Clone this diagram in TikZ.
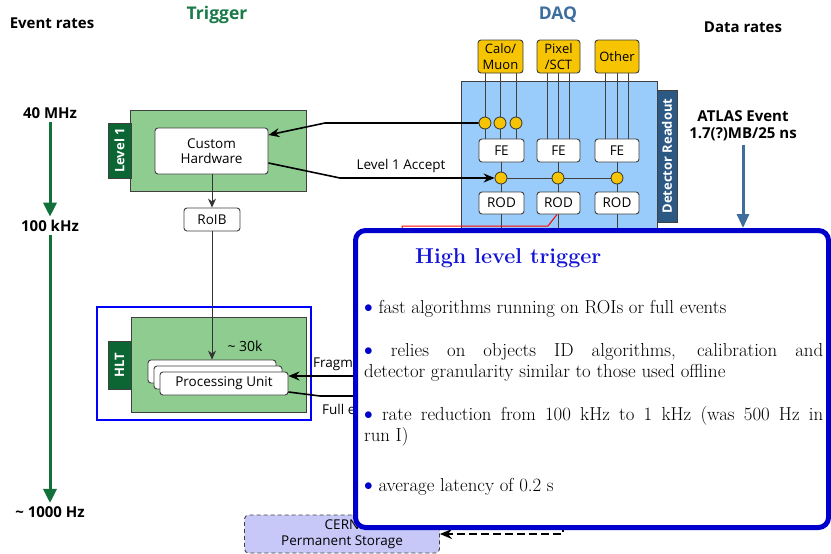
\documentclass[tikz,border=0pt]{standalone}
\usepackage{fontspec}
\setsansfont{Open Sans}
\usetikzlibrary{arrows.meta,calc}

\definecolor{boxgreen}{RGB}{143,204,143}
\definecolor{tabgreen}{RGB}{12,102,52}
\definecolor{headgreen}{RGB}{26,122,72}
\definecolor{rategreen}{RGB}{18,112,58}
\definecolor{daqfill}{RGB}{153,204,250}
\definecolor{tabblue}{RGB}{44,88,132}
\definecolor{steel}{RGB}{62,110,158}
\definecolor{detyellow}{RGB}{246,196,0}
\definecolor{panelblue}{RGB}{0,0,205}
\definecolor{titleblue}{RGB}{20,20,215}
\definecolor{storefill}{RGB}{200,200,248}

\newcommand\hltbullet{\textcolor{panelblue}{\fontsize{19}{19}\selectfont\raisebox{0.2pt}{$\bullet$}}\ }

\begin{document}
\begin{tikzpicture}[x=1pt,y=-1pt,
  every node/.style={font=\sffamily},
  lbl/.style={font=\fontsize{13.5}{16}\sffamily},
  head/.style={font=\fontsize{15}{17}\sffamily\bfseries},
  section/.style={font=\fontsize{17.5}{20}\sffamily\bfseries},
  stage/.style={draw=black!75, line width=0.9pt, fill=boxgreen, inner sep=0pt},
  tab/.style={draw=black!75, line width=0.8pt, fill=tabgreen, text=white, inner sep=0pt,
    rotate=90, font=\fontsize{13}{14}\sffamily\bfseries},
  wbox/.style={draw=black!75, line width=0.9pt, fill=white, rounded corners=3pt,
    inner sep=0pt, align=center, font=\fontsize{13.5}{15.5}\sffamily},
  ybox/.style={wbox, fill=detyellow, font=\fontsize{13}{16}\sffamily},
  dot/.style={circle, draw=black!80, line width=0.8pt, fill=detyellow,
    minimum size=12pt, inner sep=0pt},
  wire/.style={draw=black!75, line width=0.8pt},
  link/.style={draw=black, line width=1.6pt, -{Stealth[length=11pt,width=9pt]}},
  thinlink/.style={draw=black!80, line width=0.8pt, -{Stealth[length=9pt,width=8pt]}},
  rate/.style={draw=rategreen, line width=3pt, -{Triangle[length=14pt,width=13pt]}},
  hlttext/.style={anchor=base west, inner sep=0pt, font=\fontsize{18.8}{21}\rmfamily},
]
\fill[white] (0,0) rectangle (831,554);
\path[use as bounding box] (0,0) rectangle (831,554);

% column headings
\node[head] (evr) at (52,23) {Event rates};
\node[section, text=headgreen] (trig) at (217,15) {Trigger};
\node[section, text=steel] (daq) at (558,15) {DAQ};
\node[head] (drates) at (743,27) {Data rates};

% event rate scale
\node[head] (r40) at (50,113) {40 MHz};
\node[head] (r100) at (50,226) {100 kHz};
\node[head] (r1k) at (50,512) {\textasciitilde{} 1000 Hz};
\draw[rate] (r40.south) -- (r100.north);
\draw[rate] (r100.south) -- (r1k.north);

% Level 1 trigger
\node[stage, minimum width=176pt, minimum height=81pt] (l1) at (218,150.5) {};
\node[tab, minimum width=55pt, minimum height=23pt] (l1tab) at (119.5,150.5) {Level 1};
\node[wbox, minimum width=113pt, minimum height=46pt] (ch) at (211.5,151) {Custom\\Hardware};
\node[wbox, minimum width=56pt, minimum height=23pt] (roib) at (212,219.5) {RoIB};
\draw[thinlink] (ch.south -| roib.north) -- (roib.north);

% High level trigger farm
\node[draw=blue, line width=1.3pt, minimum width=214pt, minimum height=113pt, inner sep=0pt] (hltframe) at (204,363.5) {};
\node[stage, minimum width=175pt, minimum height=95pt] (hltbox) at (218.5,364.5) {};
\node[tab, minimum width=48pt, minimum height=23pt] (hlttab) at (119.5,365) {HLT};
\node[wbox, minimum width=128pt, minimum height=23pt] (pu1) at (212,371.5) {};
\node[wbox, minimum width=128pt, minimum height=23pt] (pu2) at (218,377.5) {};
\node[wbox, minimum width=128pt, minimum height=23pt] (pu3) at (224,383.5) {Processing Unit};
\draw[thinlink] (roib.south) -- (pu1.north);
\node[font=\fontsize{14}{16}\sffamily] (n30k) at (245,346) {\textasciitilde{} 30k};

% DAQ readout
\node[draw=black!75, line width=0.9pt, fill=daqfill, minimum width=196pt, minimum height=179pt, inner sep=0pt] (daqbox) at (559,170.5) {};
\node[tab, fill=tabblue, minimum width=132pt, minimum height=20pt] (drtab) at (667,156) {Detector Readout};

\node[ybox, minimum width=45pt, minimum height=33pt] (calo) at (500.5,56.5) {Calo/\\Muon};
\node[ybox, minimum width=43pt, minimum height=33pt] (pix) at (558.5,56.5) {Pixel\\/SCT};
\node[ybox, minimum width=44pt, minimum height=33pt] (oth) at (617,56.5) {Other};

\node[wbox, minimum width=45pt, minimum height=23pt] (fe1) at (501.5,150.5) {FE};
\node[wbox, minimum width=43pt, minimum height=23pt] (fe2) at (558.5,150.5) {FE};
\node[wbox, minimum width=44pt, minimum height=23pt] (fe3) at (617,150.5) {FE};
\node[wbox, minimum width=45pt, minimum height=22pt] (rod1) at (501.5,203) {ROD};
\node[wbox, minimum width=43pt, minimum height=22pt] (rod2) at (558.5,203) {ROD};
\node[wbox, minimum width=44pt, minimum height=22pt] (rod3) at (617,203) {ROD};

% detector channels into the front ends
\foreach \x in {485,500,516}
  \draw[wire] (calo.south -| \x,0) -- (fe1.north -| \x,0);
\foreach \x in {547,558,569}
  \draw[wire] (pix.south -| \x,0) -- (fe2.north -| \x,0);
\foreach \x in {605,617,628}
  \draw[wire] (oth.south -| \x,0) -- (fe3.north -| \x,0);

% front ends to readout drivers
\draw[wire] (fe1.south) -- (rod1.north);
\draw[wire] (fe2.south) -- (rod2.north);
\draw[wire] (fe3.south) -- (rod3.north);
\draw[wire] (rod1.south) -- ++(0,60);
\draw[wire] (rod2.south) -- ++(0,60);
\draw[wire] (rod3.south) -- ++(0,60);
\draw[red, line width=1pt] ($(rod2.south)+(-1.5,0)$) -- (548,226) -- (402,226) -- (402,300);

\node[dot] (ca) at (485,123) {};
\node[dot] (cb) at (500,123) {};
\node[dot] (cc) at (516,123) {};
\draw[wire] (501,178) -- (617,178);
\node[dot] (m1) at (501,178) {};
\node[dot] (m2) at (558,178) {};
\node[dot] (m3) at (617,178) {};

% Level 1 signals
\draw[link] (ca.west) -- (325,123) -- ($(ch.east)+(0,-16)$);
\draw[link] ($(ch.east)+(0,12)$) -- (340,178) -- (m1.west);
\node[lbl, anchor=base] (l1acc) at (401,169) {Level 1 Accept};

% data rate
\node[head, align=center] (atlas) at (743,126) {ATLAS Event\\1.7(?)MB/25 ns};
\coordinate (hltin) at (743,228);
\draw[draw=steel, line width=3pt, -{Triangle[length=14pt,width=12pt]}] (atlas.south) -- (hltin);

% event building towards the farm
\coordinate (rosfrag) at (430,376);
\coordinate (rosfull) at (430,396);
\draw[link] (rosfrag) -- ($(pu3.east)+(0,-7.5)$);
\draw[line width=1.6pt] ($(pu3.east)+(0,8.5)$) -- (320,396) -- (rosfull);
\node[lbl, anchor=base west, inner sep=0pt] (frag) at (313,367) {Fragments};
\node[lbl, anchor=base west, inner sep=0pt] (full) at (322,414) {Full events};

% permanent storage
\node[draw=black!75, dash pattern=on 4pt off 3pt, line width=0.9pt, rounded corners=4pt, fill=storefill,
  minimum width=195pt, minimum height=38pt, inner sep=0pt, align=center, lbl] (store) at (342,534) {CERN\\Permanent Storage};
\coordinate (sfo) at (563,500);
\draw[dash pattern=on 8pt off 4pt, line width=2pt, -{Stealth[length=12pt,width=10pt]}] (sfo) -- (563,534) -- (store.east);

% high level trigger summary panel
\node[draw=panelblue, line width=5pt, rounded corners=10pt, fill=white,
  minimum width=473pt, minimum height=297pt, inner sep=0pt] (panel) at (592,379) {};
\node[anchor=base west, inner sep=0pt, text=titleblue, font=\fontsize{21.5}{24}\rmfamily\bfseries] (ptitle) at (415,263) {High level trigger};
\node[hlttext] (p1) at (364,313) {\hltbullet fast algorithms running on ROIs or full events};
\node[hlttext] (p2a) at (364,356) {\makebox[459pt][s]{\hltbullet relies on objects ID algorithms, calibration and}};
\node[hlttext] (p2b) at (364,377) {detector granularity similar to those used offline};
\node[hlttext] (p3a) at (364,420) {\makebox[459pt][s]{\hltbullet rate reduction from 100 kHz to 1 kHz (was 500 Hz in}};
\node[hlttext] (p3b) at (364,441) {run I)};
\node[hlttext] (p4) at (364,491) {\hltbullet average latency of 0.2 s};
\end{tikzpicture}
\end{document}
